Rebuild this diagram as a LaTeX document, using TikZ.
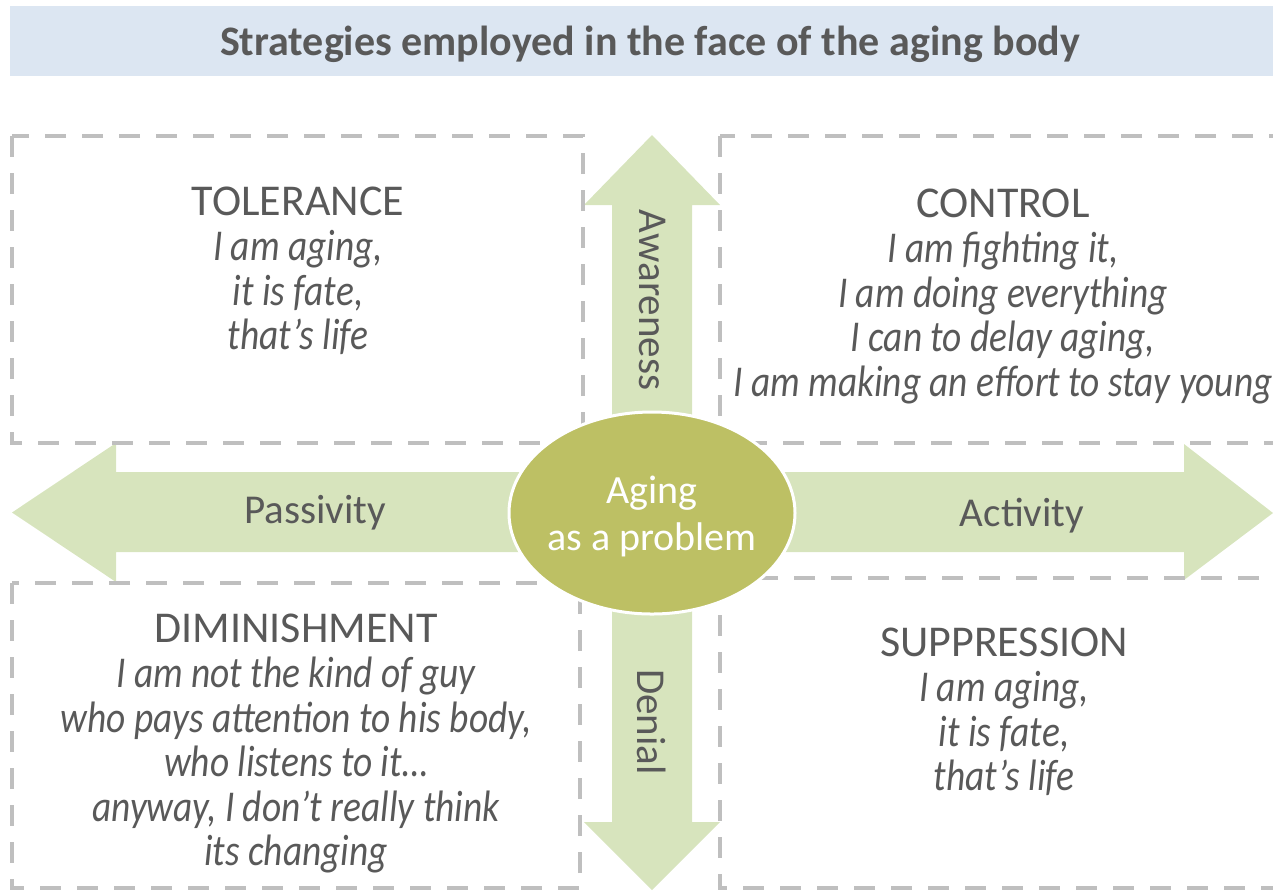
\documentclass[tikz,border=0pt]{standalone}
\usepackage{fontspec}
\setmainfont{Carlito}[ItalicFeatures={FakeStretch=0.85}]
\definecolor{txt}{HTML}{595959}
\definecolor{titleblue}{HTML}{DCE6F2}
\definecolor{dashgray}{HTML}{BFBFBF}
\definecolor{arrgreen}{HTML}{D7E4BD}
\definecolor{olive}{HTML}{BDC064}
\begin{document}
\begin{tikzpicture}[x=0.5pt,y=-0.5pt,
  dbox/.style={draw=dashgray, line width=2.4pt, dash pattern=on 10.5pt off 8pt},
  arr/.style={fill=arrgreen, draw=none},
  lbl/.style={text=txt, font=\fontsize{20.5}{24}\selectfont, inner sep=0pt},
  quad/.style={text=txt, font={\fontsize{22}{22.3}\selectfont\lineskiplimit=-30pt}, align=center, inner sep=0pt, anchor=north},
  coretext/.style={text=white, align=center, inner sep=0pt, font={\fontsize{20}{23.5}\selectfont\lineskiplimit=-30pt}}
]
\useasboundingbox (0,0) rectangle (1273,891);
\clip (0,0) rectangle (1273,891);

% title band
\fill[titleblue] (10,6) rectangle (1273,76);
\node[anchor=base, text=txt, inner sep=0pt, font=\bfseries\fontsize{21}{21}\selectfont] (title) at (650,55) {Strategies employed in the face of the aging body};

% arrows
\fill[arr] (612,420) -- (612,205) -- (584,205) -- (652,135) -- (720,205) -- (692,205) -- (692,420) -- cycle;
\fill[arr] (612,600) -- (612,822) -- (584,822) -- (652,890) -- (720,822) -- (692,822) -- (692,600) -- cycle;
\fill[arr] (560,472) -- (116,472) -- (116,443) -- (12,512.5) -- (116,582) -- (116,552) -- (560,552) -- cycle;
\fill[arr] (740,472) -- (1184,472) -- (1184,444) -- (1273,513) -- (1184,580) -- (1184,552) -- (740,552) -- cycle;

% dashed boxes
\draw[dbox] (12,136) rectangle (583,443);
\draw[dbox] (720,136) rectangle (1290,443);
\draw[dbox] (12,583) rectangle (580,888);
\draw[dbox] (720,578) rectangle (1290,888);

% axis labels
\node[lbl, rotate=-90] (aware) at (652,300) {Awareness};
\node[lbl, rotate=-90] (denial) at (652,722) {Denial};
\node[lbl] (pass) at (315,513) {Passivity};
\node[lbl] (act) at (1022,516) {Activity};

% centre
\filldraw[fill=olive, draw=white, line width=1.5pt] (652,513) ellipse [x radius=143, y radius=101];
\node[coretext] (prob) at (652,516) {Aging\\as a problem};

% quadrant texts
\node[quad] (tol) at (298,187) {TOLERANCE\\{\itshape I am aging,}\\{\itshape it is fate,}\\{\itshape that’s life}};
\node[quad] (ctl) at (1003,189) {CONTROL\\{\itshape I am fighting it,}\\{\itshape I am doing everything}\\{\itshape I can to delay aging,}\\{\itshape I am making an effort to stay young}};
\node[quad] (dim) at (296,614) {DIMINISHMENT\\{\itshape I am not the kind of guy}\\{\itshape who pays attention to his body,}\\{\itshape who listens to it…}\\{\itshape anyway, I don’t really think}\\{\itshape its changing}};
\node[quad] (sup) at (1004,628) {SUPPRESSION\\{\itshape I am aging,}\\{\itshape it is fate,}\\{\itshape that’s life}};
\end{tikzpicture}
\end{document}
